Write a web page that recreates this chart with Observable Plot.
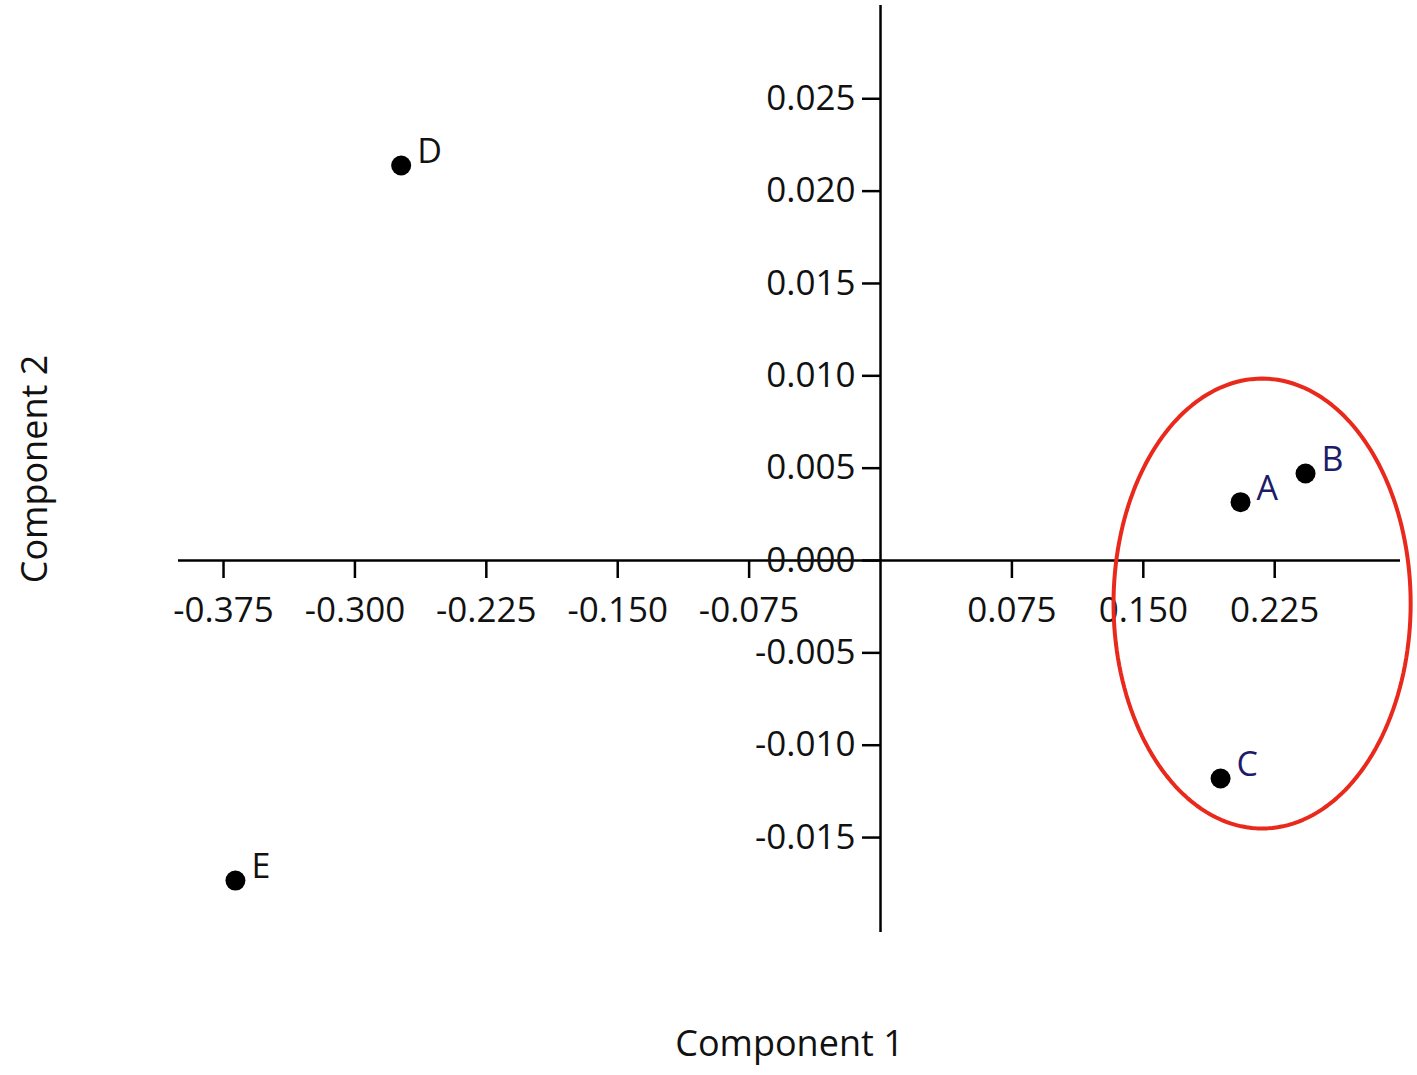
<!DOCTYPE html>
<html>
<head>
<meta charset="utf-8">
<script src="https://cdn.jsdelivr.net/npm/d3@7"></script>
<script src="https://cdn.jsdelivr.net/npm/@observablehq/plot@0.6"></script>
<style>
  html, body { margin: 0; padding: 0; background: #fff; }
  #chart svg { display: block; }
</style>
</head>
<body>
<div id="chart"></div>
<script>
// ---- data ----
const labels = ["A", "B", "C", "D", "E"];
const comp1 = [0.2055, 0.2426, 0.1941, -0.2736, -0.3682];
const comp2 = [0.00316, 0.00471, -0.01180, 0.02139, -0.01733];
const labelColors = ["#1c1c6b", "#1c1c6b", "#1c1c6b", "#111111", "#111111"];

const xTicks = [-0.375, -0.300, -0.225, -0.150, -0.075, 0.075, 0.150, 0.225];
const yTicks = [0.025, 0.020, 0.015, 0.010, 0.005, 0.000, -0.005, -0.010, -0.015];

// highlight ellipse (center and radii, data units)
const ellipseCenter = [0.2178, -0.00233];
const ellipseRadii = [0.0848, 0.01218];

// ---- layout ----
const W = 1417, H = 1075;
const mL = 178, mR = 17, mT = 5, mB = 143;
const xDomain = [-0.4007, 0.2968];
const yDomain = [-0.02014, 0.03005];
const pxPerX = (W - mL - mR) / (xDomain[1] - xDomain[0]);
const pxPerY = (H - mT - mB) / (yDomain[1] - yDomain[0]);
const tickLen = 18;

const points = labels.map((l, i) => ({label: l, x: comp1[i], y: comp2[i], color: labelColors[i]}));
const ellipse = d3.range(0, 361, 2).map(a => {
  const t = a * Math.PI / 180;
  return {x: ellipseCenter[0] + ellipseRadii[0] * Math.cos(t), y: ellipseCenter[1] + ellipseRadii[1] * Math.sin(t)};
});

const font = "'Open Sans', 'Noto Sans', sans-serif";

const chart = Plot.plot({
  width: W, height: H,
  marginLeft: mL, marginRight: mR, marginTop: mT, marginBottom: mB,
  style: {fontFamily: font, background: "#fff", overflow: "visible"},
  x: {domain: xDomain, axis: null},
  y: {domain: yDomain, axis: null},
  marks: [
    Plot.ruleY([0], {stroke: "#000", strokeWidth: 2.5}),
    Plot.ruleX([0], {stroke: "#000", strokeWidth: 2.5}),
    Plot.ruleX(xTicks, {x: d => d, y1: 0, y2: -tickLen / pxPerY, stroke: "#000", strokeWidth: 2.5}),
    Plot.ruleY(yTicks, {y: d => d, x1: 0, x2: -tickLen / pxPerX, stroke: "#000", strokeWidth: 2.5}),
    Plot.text(xTicks, {x: d => d, y: 0, text: d => d.toFixed(3), dy: 50, textAnchor: "middle", fontSize: 35, fill: "#111"}),
    Plot.text(yTicks, {x: 0, y: d => d, text: d => d.toFixed(3), dx: -25, textAnchor: "end", fontSize: 35, fill: "#111"}),
    Plot.line(ellipse, {x: "x", y: "y", stroke: "#e8291c", strokeWidth: 4, clip: false}),
    Plot.dot(points, {x: "x", y: "y", r: 10, fill: "#000"}),
    Plot.text(points, {x: "x", y: "y", text: "label", dx: 16, dy: -13, textAnchor: "start", fontSize: 34, fill: "color"}),
    Plot.text(["Component 1"], {frameAnchor: "bottom", dy: 123, textAnchor: "middle", fontSize: 36, fill: "#111"}),
    Plot.text(["Component 2"], {frameAnchor: "left", dx: -143, rotate: -90, textAnchor: "middle", fontSize: 36, fill: "#111"})
  ]
});
document.getElementById("chart").appendChild(chart);
</script>
</body>
</html>
